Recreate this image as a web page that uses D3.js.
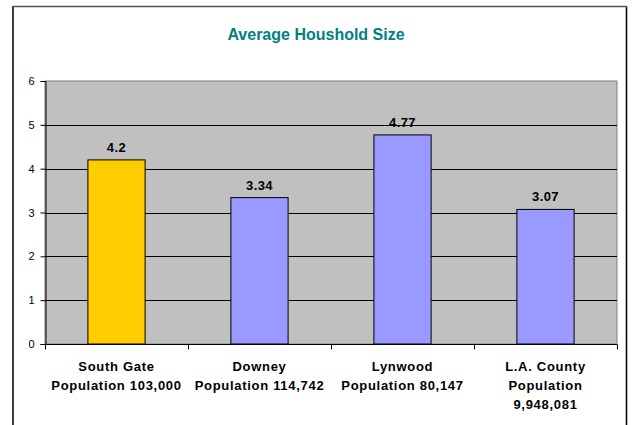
<!DOCTYPE html>
<html><head><meta charset="utf-8">
<script src="https://cdn.jsdelivr.net/npm/d3@7"></script>
<style>body{margin:0;background:#fff}svg{display:block;font-family:Arial,"Liberation Sans",sans-serif}</style>
</head><body>
<svg id="c" width="632" height="425"></svg>
<script>
const categories = [
  ["South Gate", "Population 103,000"],
  ["Downey", "Population 114,742"],
  ["Lynwood", "Population 80,147"],
  ["L.A. County", "Population", "9,948,081"]
];
const values = [4.2, 3.34, 4.77, 3.07];
const barColors = ["#FFCC00", "#9999FF", "#9999FF", "#9999FF"];
const yTicks = [0, 1, 2, 3, 4, 5, 6];
const title = "Average Houshold Size";

const svg = d3.select("#c");
// outer frame
svg.append("line").attr("x1",13).attr("x2",13).attr("y1",6).attr("y2",425).attr("stroke","#000").attr("stroke-width",1.5);
svg.append("line").attr("x1",626.5).attr("x2",626.5).attr("y1",6).attr("y2",425).attr("stroke","#000").attr("stroke-width",1.5);
svg.append("line").attr("x1",13).attr("x2",627).attr("y1",6.5).attr("y2",6.5).attr("stroke","#555").attr("stroke-width",1.5);

const L = 45, R = 617, T = 81, B = 344;
const x = d3.scaleBand().domain(d3.range(values.length)).range([L, R]).paddingInner(0.6).paddingOuter(0.3);
const xb = d3.scaleBand().domain(d3.range(values.length)).range([L, R]);
const y = d3.scaleLinear().domain([0, 6]).range([B, T]);

svg.append("rect").attr("x",L).attr("y",T).attr("width",R-L).attr("height",B-T).attr("fill","#C0C0C0").attr("stroke","#808080").attr("stroke-width",1);

// gridlines
svg.append("g").selectAll("line").data(yTicks.filter(d=>d>0 && d<6)).join("line")
  .attr("x1",L).attr("x2",R).attr("y1",d=>Math.round(y(d))+0.5).attr("y2",d=>Math.round(y(d))+0.5)
  .attr("stroke","#000").attr("stroke-width",1);

// y axis
const ya = svg.append("g").attr("transform",`translate(${L+0.5},0)`)
  .call(d3.axisLeft(y).tickValues(yTicks).tickSize(5).tickPadding(6).tickFormat(d3.format("d")));
ya.select(".domain").attr("stroke","#000");
ya.selectAll("text").attr("font-size",11).attr("fill","#000").attr("font-family","Arial, 'Liberation Sans', sans-serif");
ya.selectAll("line").attr("stroke","#000");

// bars
svg.append("g").selectAll("rect").data(values).join("rect")
  .attr("x",(d,i)=>x(i)).attr("width",x.bandwidth())
  .attr("y",d=>y(d)).attr("height",d=>B-y(d))
  .attr("fill",(d,i)=>barColors[i]).attr("stroke","#000").attr("stroke-width",1);

// x axis
const xa = svg.append("g").attr("transform",`translate(0,${B+0.5})`);
xa.append("line").attr("x1",L).attr("x2",R).attr("stroke","#000");
xa.selectAll("line.t").data(d3.range(values.length+1)).join("line").attr("class","t")
  .attr("x1",i=>Math.round(L+i*xb.bandwidth())+0.5).attr("x2",i=>Math.round(L+i*xb.bandwidth())+0.5)
  .attr("y1",0).attr("y2",5).attr("stroke","#000");

// value labels
svg.append("g").selectAll("text").data(values).join("text")
  .attr("x",(d,i)=>x(i)+x.bandwidth()/2).attr("y",d=>y(d)-8)
  .attr("text-anchor","middle").attr("font-size",13).attr("font-weight","bold").attr("letter-spacing",0.4).text(d=>d);

// category labels
const cl = svg.append("g").selectAll("text").data(categories).join("text")
  .attr("text-anchor","middle").attr("font-size",13).attr("font-weight","bold").attr("letter-spacing",0.7);
cl.each(function(lines,i){
  const t = d3.select(this);
  lines.forEach((s,j)=>t.append("tspan").attr("x",xb(i)+xb.bandwidth()/2).attr("y",371+j*19).text(s));
});

// title
svg.append("text").attr("x",316).attr("y",40).attr("text-anchor","middle")
  .attr("font-size",16).attr("font-weight","bold").attr("fill","#008080").text(title);
</script>
</body></html>
